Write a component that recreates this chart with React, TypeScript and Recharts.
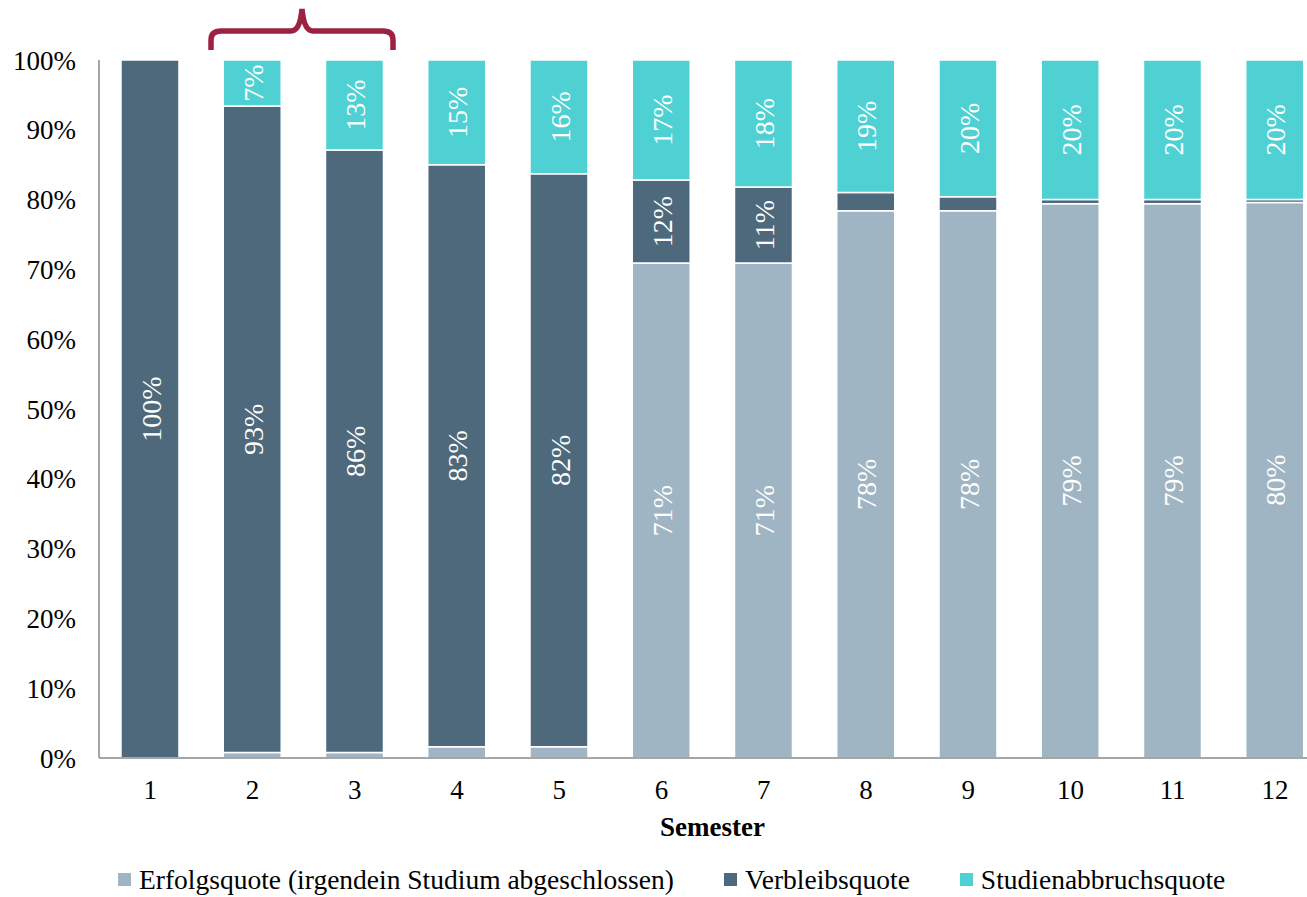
import { Bar, BarChart, LabelList, Legend, XAxis, YAxis } from "recharts";

const semesters = ["1", "2", "3", "4", "5", "6", "7", "8", "9", "10", "11", "12"];
const erfolg = [0, 0.8, 0.8, 1.6, 1.6, 70.9, 70.9, 78.4, 78.4, 79.4, 79.4, 79.6];
const verbleib = [100, 92.6, 86.3, 83.4, 82.1, 11.9, 10.9, 2.6, 2.0, 0.6, 0.6, 0.4];
const abbruch = [0, 6.6, 12.9, 15.0, 16.3, 17.2, 18.2, 19.0, 19.6, 20.0, 20.0, 20.0];
const yTicks = [0, 10, 20, 30, 40, 50, 60, 70, 80, 90, 100];

const seriesNames = [
  "Erfolgsquote (irgendein Studium abgeschlossen)",
  "Verbleibsquote",
  "Studienabbruchsquote",
];
const colors = ["#9fb5c3", "#4e697c", "#4fd1d4"];

const data = semesters.map((s, i) => ({
  semester: s,
  erfolg: erfolg[i],
  verbleib: verbleib[i],
  abbruch: abbruch[i],
}));

const FONT = '"Liberation Serif", serif';

const renderLabel = (props: any) => {
  const { x, y, width, height, value } = props;
  if (value == null || value < 5) return null;
  const cx = x + width / 2;
  const cy = y + height / 2;
  return (
    <text
      x={cx}
      y={cy}
      dy="0.38em"
      fill="#ffffff"
      fontSize={28}
      fontFamily={FONT}
      textAnchor="middle"
      transform={`rotate(-90 ${cx} ${cy})`}
    >
      {Math.round(value) + "%"}
    </text>
  );
};

function MyLegend() {
  return (
    <div
      style={{
        display: "flex",
        height: 35,
        alignItems: "center",
        paddingLeft: 118,
        fontFamily: FONT,
        fontSize: 27.5,
        color: "#000",
      }}
    >
      {seriesNames.map((n, i) => (
        <div key={n} style={{ display: "flex", alignItems: "center", marginRight: 50 }}>
          <span
            style={{
              width: 13,
              height: 13,
              background: colors[i],
              display: "inline-block",
              marginRight: 8,
            }}
          />
          <span>{n}</span>
        </div>
      ))}
    </div>
  );
}

export default function App() {
  return (
    <div
      style={{
        position: "absolute",
        left: 0,
        top: 0,
        width: 1307,
        height: 897,
        overflow: "hidden",
        background: "#fff",
      }}
    >
      <BarChart
        width={1340}
        height={897}
        data={data}
        margin={{ top: 60, right: 14, left: 0, bottom: 0 }}
        barCategoryGap="21.5%"
      >
        <XAxis
          dataKey="semester"
          height={104}
          tickLine={false}
          tickSize={0}
          tickMargin={22}
          stroke="#a6a6a6"
          strokeWidth={2}
          tick={{ fill: "#000", fontSize: 27, fontFamily: FONT }}
          label={{
            value: "Semester",
            position: "insideTop",
            offset: 59,
            fill: "#000",
            fontSize: 27,
            fontWeight: "bold",
            fontFamily: FONT,
          }}
        />
        <YAxis
          width={99}
          domain={[0, 100]}
          ticks={yTicks}
          tickFormatter={(v) => v + "%"}
          tickLine={false}
          tickSize={0}
          tickMargin={23}
          stroke="#a6a6a6"
          strokeWidth={2}
          tick={{ fill: "#000", fontSize: 27, fontFamily: FONT }}
        />
        <Legend
          verticalAlign="bottom"
          content={() => <MyLegend />}
          wrapperStyle={{ left: 0, width: 1307, height: 35 }}
        />
        <Bar dataKey="erfolg" stackId="a" fill={colors[0]} stroke="#fff" strokeWidth={1.5} isAnimationActive={false}>
          <LabelList dataKey="erfolg" content={renderLabel} />
        </Bar>
        <Bar dataKey="verbleib" stackId="a" fill={colors[1]} stroke="#fff" strokeWidth={1.5} isAnimationActive={false}>
          <LabelList dataKey="verbleib" content={renderLabel} />
        </Bar>
        <Bar dataKey="abbruch" stackId="a" fill={colors[2]} stroke="#fff" strokeWidth={1.5} isAnimationActive={false}>
          <LabelList dataKey="abbruch" content={renderLabel} />
        </Bar>
      </BarChart>
      <svg
        width={1307}
        height={60}
        style={{ position: "absolute", left: 0, top: 0, pointerEvents: "none" }}
      >
        <path
          d="M211 50 L211 40 Q211 31 221 31 L291 31 Q300 31 302 9 Q304 31 313 31 L383 31 Q393 31 393 40 L393 50"
          fill="none"
          stroke="#9c2241"
          strokeWidth={5.5}
        />
      </svg>
    </div>
  );
}
